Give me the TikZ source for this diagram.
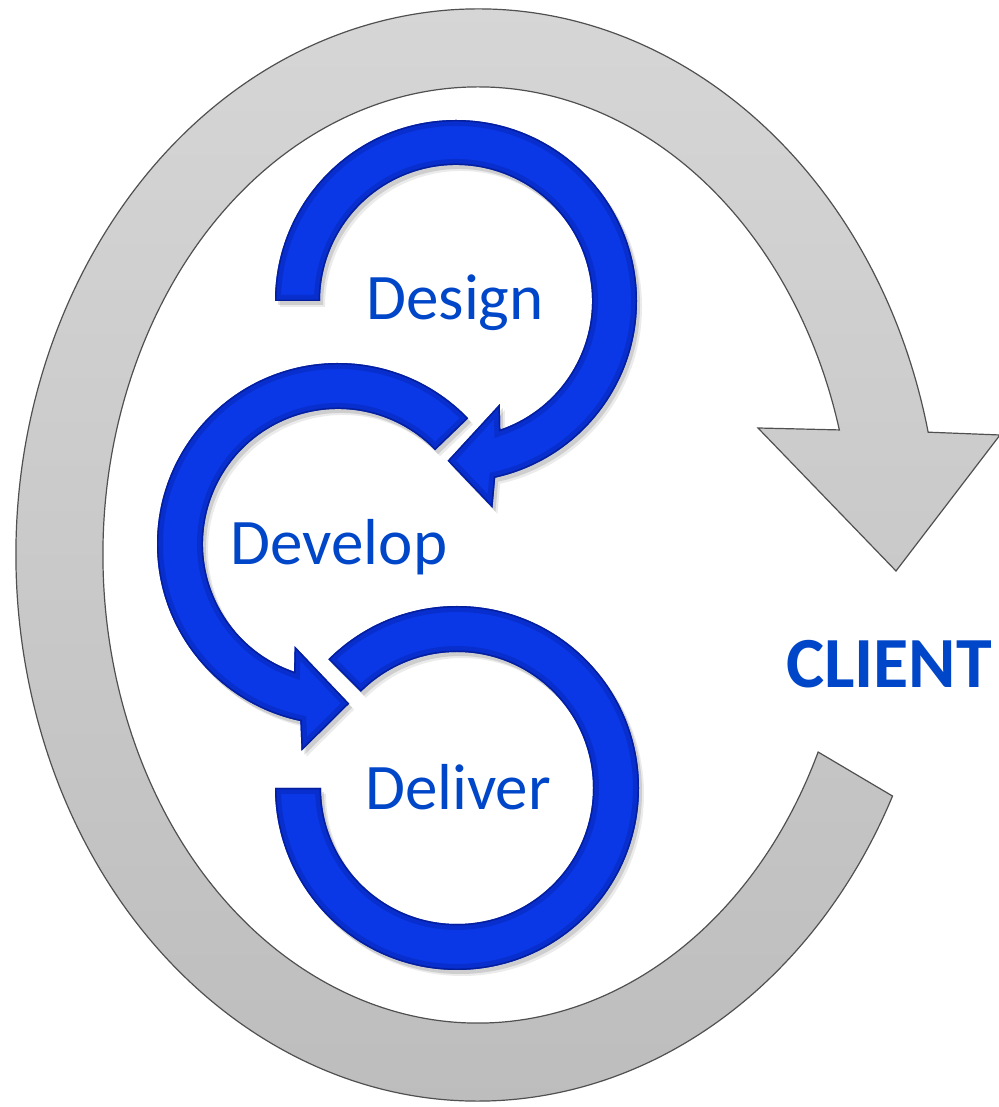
\documentclass[tikz,border=0pt]{standalone}
\usepackage{fontspec}
\setmainfont{Carlito}
\definecolor{ringblue}{RGB}{10,56,230}
\definecolor{edgeblue}{RGB}{4,28,150}
\definecolor{txtblue}{RGB}{0,70,200}
\definecolor{graytop}{RGB}{215,215,215}
\definecolor{graybot}{RGB}{188,188,188}
\definecolor{grayline}{RGB}{80,80,80}
\newcommand\designshape{(180:181) arc[start angle=180, end angle=-77.5, radius=181] -- (-80:210) -- (-93:160) -- (-67:112) -- (-71:136) arc[start angle=-71, end angle=180, radius=136] -- cycle}
\newcommand\developshape{(44:181) arc[start angle=44, end angle=258, radius=181] -- (260:210) -- (274:160) -- (247:111) -- (251:135) arc[start angle=251, end angle=44, radius=135] -- cycle}
\newcommand\delivershape{(135:182) arc[start angle=135, end angle=-180, radius=182] -- (-180:136) arc[start angle=-180, end angle=135, radius=136] -- cycle}
\newcommand\bluering[2]{%
  \begin{scope}[shift={#1}]
    \fill[black,opacity=0.08,shift={(5,-6)}] #2;
    \fill[black,opacity=0.12,shift={(3,-4)}] #2;
    \fill[ringblue] #2;
    \begin{scope}
      \clip #2;
      \draw[edgeblue,line width=9pt,opacity=0.3] #2;
      \draw[edgeblue,line width=2.2pt,opacity=0.85] #2;
    \end{scope}
  \end{scope}}
\begin{document}
\begin{tikzpicture}[x=0.75pt,y=0.75pt,
  lbl/.style={text=txtblue, font=\fontsize{48.75}{58}\selectfont, anchor=base, inner sep=0pt},
  clientlbl/.style={text=txtblue, font=\fontsize{54}{64}\selectfont\bfseries, anchor=base, inner sep=0pt}]
\useasboundingbox[fill=white] (0,0) rectangle (999,1107);
\clip (0,0) rectangle (999,1107);
% outer gray cycle arrow
\draw[grayline, line width=0.9pt, top color=graytop, bottom color=graybot]
  ({478+462*cos(13)},{552+546*sin(13)})
  arc[start angle=13, end angle=333.8, x radius=462, y radius=546]
  -- ({478+375*cos(335.1)},{552+468*sin(335.1)})
  arc[start angle=335.1, end angle=15.5, x radius=375, y radius=468]
  -- (758,679) -- (896,536) -- (1000,672) -- cycle;
% blue rings
\bluering{(457,319)}{\delivershape}
\bluering{(338,563)}{\developshape}
\bluering{(456,806)}{\designshape}
% labels
\node[lbl] (design) at (455,787) {Design};
\node[lbl] (develop) at (339,542) {Develop};
\node[lbl] (deliver) at (458,297) {Deliver};
\node[clientlbl] (client) at (889,419) {CLIENT};
\end{tikzpicture}
\end{document}
